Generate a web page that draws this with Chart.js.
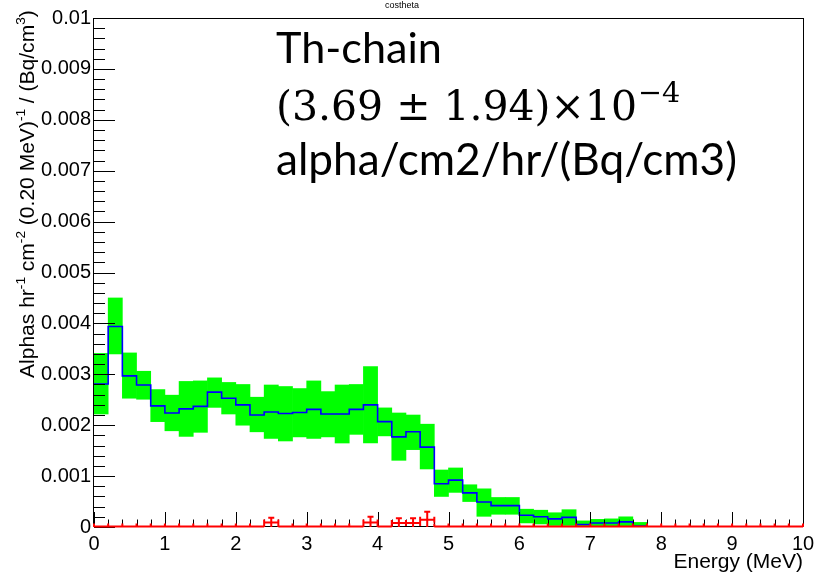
<!DOCTYPE html>
<html><head><meta charset="utf-8">
<script src="https://cdn.jsdelivr.net/npm/chart.js@4/dist/chart.umd.min.js"></script>
<style>html,body{margin:0;padding:0;background:#fff;}canvas{display:block;}</style>
</head><body>
<canvas id="c" width="827" height="577"></canvas>
<script>
// ---- data ----
const binWidth = 0.2;
const binCenters = [0.1,0.3,0.5,0.7,0.9,1.1,1.3,1.5,1.7,1.9,2.1,2.3,2.5,2.7,2.9,3.1,3.3,3.5,3.7,3.9,
  4.1,4.3,4.5,4.7,4.9,5.1,5.3,5.5,5.7,5.9,6.1,6.3,6.5,6.7,6.9,7.1,7.3,7.5,7.7,7.9,
  8.1,8.3,8.5,8.7,8.9,9.1,9.3,9.5,9.7,9.9];
const thValue = [0.00281,0.00394,0.00297,0.00279,0.00238,0.00224,0.00232,0.00237,0.00265,0.00253,
  0.00240,0.00220,0.00226,0.00223,0.00225,0.00231,0.00222,0.00222,0.00231,0.00240,
  0.00207,0.00177,0.00187,0.00157,0.00085,0.00092,0.00067,0.00049,0.00042,0.00042,
  0.00023,0.00020,0.00016,0.00019,0.00005,0.00008,0.00008,0.00010,0.00002,0,
  0,0,0,0,0,0,0,0,0,0];
const bandHigh = [0.00341,0.00450,0.00342,0.00306,0.00270,0.00259,0.00286,0.00287,0.00293,0.00284,
  0.00280,0.00255,0.00279,0.00276,0.00272,0.00287,0.00266,0.00279,0.00280,0.00315,
  0.00234,0.00224,0.00220,0.00202,0.00112,0.00116,0.00083,0.00075,0.00058,0.00058,
  0.00035,0.00033,0.00028,0.00034,0.00012,0.00015,0.00016,0.00020,0.00009,0,
  0,0,0,0,0,0,0,0,0,0];
const bandLow = [0.00222,0.00340,0.00253,0.00251,0.00207,0.00189,0.00178,0.00186,0.00235,0.00222,
  0.00200,0.00187,0.00174,0.00169,0.00177,0.00174,0.00177,0.00165,0.00182,0.00165,
  0.00179,0.00131,0.00152,0.00114,0.00060,0.00068,0.00050,0.00021,0.00025,0.00025,
  0.00008,0.00006,0.00003,0.00003,0.00000,0.00002,0.00002,0.00002,0.00000,0,
  0,0,0,0,0,0,0,0,0,0];
const bkgValue = [0,0,0,0,0,0,0,0,0,0,0,0,0.00009,0,0,0,0,0,0,0.00009,
  0,0.00008,0.00008,0.00014,0,0,0,0,0,0,0,0,0,0,0,0,0,0,0,0,
  0,0,0,0,0,0,0,0,0,0];
const bkgError = [0,0,0,0,0,0,0,0,0,0,0,0,0.00009,0,0,0,0,0,0,0.00011,
  0,0.00009,0.00009,0.00016,0,0,0,0,0,0,0,0,0,0,0,0,0,0,0,0,
  0,0,0,0,0,0,0,0,0,0];
const xTickValues = [0,1,2,3,4,5,6,7,8,9,10];
const yTickValues = [0,0.001,0.002,0.003,0.004,0.005,0.006,0.007,0.008,0.009,0.01];

const titleText = 'costheta';
const xTitle = 'Energy (MeV)';
const yTitleParts = [['Alphas hr',0],['-1',1],[' cm',0],['-2',1],[' (0.20 MeV)',0],['-1',1],[' / (Bq/cm',0],['3',1],[')',0]];
const noteLine1 = 'Th-chain';
const noteLine2 = '(3.69 \u00B1 1.94)\u00D710';
const noteLine2Sup = '\u22124';
const noteLine3 = 'alpha/cm2/hr/(Bq/cm3)';

const SANS = '"Liberation Sans", Arial, Helvetica, sans-serif';

// ---- datasets built from arrays ----
const bandData = binCenters.map((c,i)=>({x:c, y:[bandLow[i], bandHigh[i]]}));
const lineData = binCenters.map((c,i)=>({x:c - binWidth/2, y:thValue[i]}));
lineData.push({x: binCenters[binCenters.length-1] + binWidth/2, y: thValue[thValue.length-1]});

const rootPlugin = {
  id: 'rootStyle',
  afterDatasetsDraw(chart) {
    const {ctx, chartArea:a, scales:{x, y}} = chart;
    ctx.save();
    // frame
    ctx.strokeStyle = '#000';
    ctx.lineWidth = 1;
    ctx.strokeRect(Math.round(a.left)-0.5, Math.round(a.top)+0.5, Math.round(a.right-a.left)+1, Math.round(a.bottom-a.top)-1);
    // y ticks (inward)
    ctx.beginPath();
    for (let k = 0; k <= 50; k++) {
      const v = k * 0.0002;
      const py = Math.round(y.getPixelForValue(v)) + 0.5;
      const len = (k % 5 === 0) ? 21 : 11;
      ctx.moveTo(a.left, py); ctx.lineTo(a.left + len, py);
    }
    // x ticks (inward)
    for (let k = 0; k <= 50; k++) {
      const v = k * 0.2;
      const px = Math.round(x.getPixelForValue(v)) + 0.5;
      const len = (k % 5 === 0) ? 15 : 7.5;
      ctx.moveTo(px, a.bottom); ctx.lineTo(px, a.bottom - len);
    }
    ctx.stroke();
    // red background points with error bars
    ctx.strokeStyle = '#ff0000';
    ctx.lineWidth = 2;
    ctx.beginPath();
    binCenters.forEach((c,i)=>{
      const x0 = x.getPixelForValue(c - binWidth/2), x1 = x.getPixelForValue(c + binWidth/2);
      const xc = x.getPixelForValue(c);
      const yv = Math.min(y.getPixelForValue(bkgValue[i]), a.bottom - 0.5);
      ctx.moveTo(x0, yv); ctx.lineTo(x1, yv);
      ctx.moveTo(x0, yv-3); ctx.lineTo(x0, Math.min(yv+3, a.bottom));
      ctx.moveTo(x1, yv-3); ctx.lineTo(x1, Math.min(yv+3, a.bottom));
      if (bkgError[i] > 0) {
        const yt = y.getPixelForValue(bkgValue[i] + bkgError[i]);
        const yb = y.getPixelForValue(Math.max(0, bkgValue[i] - bkgError[i]));
        ctx.moveTo(xc, yt); ctx.lineTo(xc, yb);
        ctx.moveTo(xc-3, yt); ctx.lineTo(xc+3, yt);
      }
    });
    ctx.stroke();
    ctx.restore();
  },
  afterDraw(chart) {
    const {ctx, chartArea:a} = chart;
    ctx.save();
    ctx.fillStyle = '#000';
    // top title
    ctx.font = '9px ' + SANS;
    ctx.textAlign = 'center'; ctx.textBaseline = 'alphabetic';
    ctx.fillText(titleText, 402, 8);
    // x title
    ctx.font = '21px ' + SANS;
    ctx.textAlign = 'right';
    ctx.fillText(xTitle, a.right, 568);
    // y title with superscripts, fitted to span the reference length
    ctx.translate(33.5, 10);
    ctx.rotate(-Math.PI/2);
    let total = 0;
    yTitleParts.forEach(([t,s])=>{ ctx.font = (s ? 13 : 20) + 'px ' + SANS; total += ctx.measureText(t).width; });
    const k = 368 / total;
    const mainF = (20*k) + 'px ' + SANS, supF = (13*k) + 'px ' + SANS;
    let cx = -368;
    ctx.textAlign = 'left';
    yTitleParts.forEach(([t,s])=>{
      ctx.font = s ? supF : mainF;
      ctx.fillText(t, cx, s ? -8*k : 0);
      cx += ctx.measureText(t).width;
    });
    ctx.setTransform(1,0,0,1,0,0);
    // annotation text
    const fitFont = (text, family, target) => {
      ctx.font = '40px ' + family;
      const w = ctx.measureText(text).width;
      return 40 * target / w;
    };
    const NOTE = 'Lato, "Open Sans", sans-serif';
    const SERIF = '"DejaVu Serif", "Liberation Serif", serif';
    ctx.textAlign = 'left';
    let fs = fitFont(noteLine1, NOTE, 166);
    ctx.font = fs + 'px ' + NOTE; ctx.fillText(noteLine1, 276, 63);
    fs = fitFont(noteLine3, NOTE, 461);
    ctx.font = fs + 'px ' + NOTE; ctx.fillText(noteLine3, 276, 175);
    fs = fitFont(noteLine2, SERIF, 361);
    ctx.font = fs + 'px ' + SERIF; ctx.fillText(noteLine2, 276, 120);
    const w2 = ctx.measureText(noteLine2).width;
    ctx.font = (fs*0.7) + 'px ' + SERIF; ctx.fillText(noteLine2Sup, 276 + w2 + 1, 102);
    ctx.restore();
  }
};

new Chart(document.getElementById('c'), {
  type: 'bar',
  data: {
    datasets: [
      { type:'line', data: lineData, stepped: 'before', borderColor:'#0000ff', borderWidth:1.6,
        pointRadius:0, fill:false, order:1 },
      { type:'bar', data: bandData, backgroundColor:'#00ff00', borderWidth:0,
        barPercentage:1, categoryPercentage:1, order:2 }
    ]
  },
  options: {
    responsive:false, devicePixelRatio:1, animation:false,
    layout:{ padding:{ left:0, top:18, right:24, bottom:0 } },
    plugins:{ legend:{display:false}, tooltip:{enabled:false} },
    scales:{
      x:{ type:'linear', min:0, max:10, offset:false,
          afterBuildTicks(s){ s.ticks = xTickValues.map(v=>({value:v})); },
          afterFit(s){ s.height = 50; },
          grid:{display:false, drawTicks:false, offset:false}, border:{display:false},
          ticks:{ padding:5, maxRotation:0, autoSkip:false, color:'#000', font:{family:SANS, size:20},
                  callback:v=>String(v) } },
      y:{ type:'linear', min:0, max:0.01,
          afterBuildTicks(s){ s.ticks = yTickValues.map(v=>({value:v})); },
          afterFit(s){ s.width = 94; },
          grid:{display:false, drawTicks:false}, border:{display:false},
          ticks:{ padding:3, autoSkip:false, color:'#000', font:{family:SANS, size:20},
                  callback:v=>String(+v.toFixed(4)) } }
    }
  },
  plugins:[rootPlugin]
});
</script>
</body></html>
